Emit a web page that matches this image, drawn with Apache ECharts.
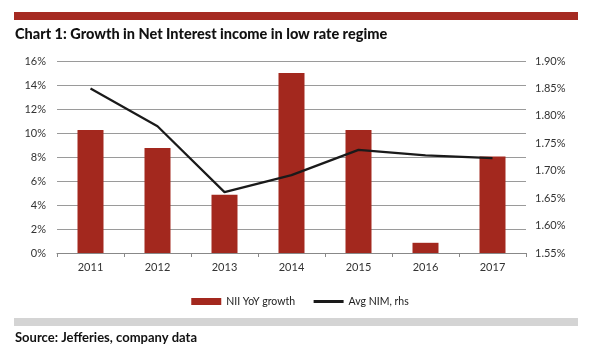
<!DOCTYPE html>
<html><head><meta charset="utf-8">
<script src="https://cdn.jsdelivr.net/npm/echarts@6/dist/echarts.min.js"></script>
<style>html,body{margin:0;padding:0;background:#fff}#c{width:600px;height:360px}</style>
</head><body><div id="c"></div>
<script>
const categories = ['2011','2012','2013','2014','2015','2016','2017'];
const niiGrowth = [10.25, 8.75, 4.85, 15.0, 10.25, 0.85, 8.05];
const avgNim = [1.850, 1.781, 1.661, 1.692, 1.738, 1.728, 1.723];
const leftTicks = {min:0, max:16, interval:2};
const rightTicks = {min:1.55, max:1.90, interval:0.05};

const chart = echarts.init(document.getElementById('c'));
chart.setOption({
  animation:false,
  textStyle:{fontFamily:'Lato'},
  graphic:[
    {type:'rect', shape:{x:14,y:12,width:564,height:8}, style:{fill:'#a52a22'}},
    {type:'text', left:15, top:27, style:{text:'Chart 1: Growth in Net Interest income in low rate regime', font:'900 14.5px Lato', fill:'#111'}},
    {type:'rect', shape:{x:14,y:318,width:564,height:8}, style:{fill:'#d4d4d4'}},
    {type:'text', left:15, top:331, style:{text:'Source: Jefferies, company data', font:'bold 13px Lato', fill:'#111'}}
  ],
  grid:{left:57, right:74, top:61, bottom:107},
  legend:{
    top:291, left:'center', itemGap:17, itemWidth:30, itemHeight:7,
    textStyle:{fontSize:10.5, color:'#222', fontFamily:'Lato'},
    data:[{name:'NII YoY growth', icon:'rect'},
          {name:'Avg NIM, rhs', itemStyle:{opacity:0}, lineStyle:{width:3, color:'#1a1a1a'}}]
  },
  xAxis:{
    type:'category', data:categories,
    axisLine:{lineStyle:{color:'#888'}},
    axisTick:{show:true, alignWithLabel:false, length:4, lineStyle:{color:'#888'}},
    axisLabel:{color:'#333', fontSize:11, margin:9}
  },
  yAxis:[
    {type:'value', min:leftTicks.min, max:leftTicks.max, interval:leftTicks.interval,
     axisLabel:{formatter:v=>v+'%', color:'#333', fontSize:11, margin:11},
     splitLine:{lineStyle:{color:'#9a9a9a', width:1}},
     axisLine:{show:false}, axisTick:{show:false}},
    {type:'value', min:rightTicks.min, max:rightTicks.max, interval:rightTicks.interval,
     axisLabel:{formatter:v=>v.toFixed(2)+'%', color:'#333', fontSize:11, margin:9},
     splitLine:{show:false}, axisLine:{show:false}, axisTick:{show:false}}
  ],
  series:[
    {name:'NII YoY growth', type:'bar', data:niiGrowth, barWidth:26,
     itemStyle:{color:'#a3281e'}},
    {name:'Avg NIM, rhs', type:'line', yAxisIndex:1, data:avgNim, symbol:'none',
     lineStyle:{color:'#1a1a1a', width:2.2}, itemStyle:{color:'#1a1a1a'}}
  ]
});
</script></body></html>
